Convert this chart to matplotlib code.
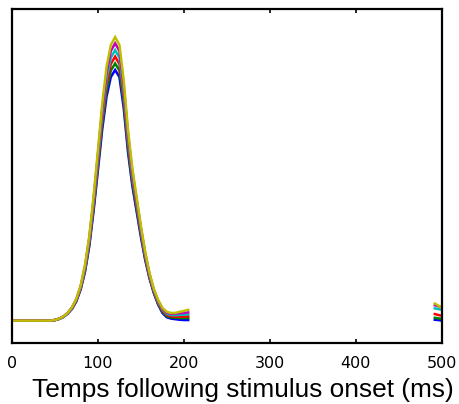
import matplotlib
matplotlib.use("Agg")
import matplotlib.pyplot as plt

plt.rcParams['font.family'] = ['Liberation Sans', 'DejaVu Sans']

# Time samples (ms) for the main segment
t_main = [0, 10, 20, 30, 40, 45, 50, 55, 60, 65, 70, 75, 80, 85, 90, 95, 100,
          105, 110, 115, 120, 125, 130, 135, 140, 145, 150, 155, 160, 165,
          170, 175, 180, 185, 190, 195, 200, 205]
# Time samples (ms) for the short segment at the end
t_tail = [492, 496, 500]

# Series values (arbitrary units, baseline = 0)
blue = [0, 0, 0, 0, 0, 0, .002, .006, .013, .025, .042, .069, .111, .173, .264,
        .389, .531, .675, .790, .859, .884, .859, .750, .594, .476, .385, .295,
        .214, .149, .097, .057, .027, .012, .007, .005, .003, .002, .002]
green = [0, 0, 0, 0, 0, 0, .002, .006, .013, .026, .043, .071, .114, .178, .271,
         .399, .545, .693, .811, .882, .907, .882, .769, .609, .488, .395, .303,
         .219, .152, .100, .060, .031, .016, .011, .010, .009, .009, .009]
red = [0, 0, 0, 0, 0, 0, .002, .007, .014, .027, .045, .073, .117, .183, .279,
       .410, .560, .711, .832, .905, .931, .905, .789, .626, .501, .406, .311,
       .225, .156, .103, .064, .035, .020, .015, .014, .014, .014, .015]
cyan = [0, 0, 0, 0, 0, 0, .002, .007, .014, .027, .046, .075, .120, .187, .286,
        .420, .573, .729, .853, .927, .954, .927, .809, .641, .513, .416, .319,
        .231, .160, .106, .067, .039, .024, .020, .019, .020, .021, .022]
magenta = [0, 0, 0, 0, 0, 0, .002, .007, .015, .028, .047, .076, .123, .192, .293,
           .430, .588, .747, .874, .951, .978, .951, .829, .657, .526, .426, .327,
           .237, .164, .109, .070, .042, .028, .024, .024, .026, .027, .029]
yellow = [0, 0, 0, 0, 0, 0, .002, .007, .015, .028, .048, .078, .125, .197, .300,
          .440, .601, .764, .894, .972, 1.000, .972, .848, .672, .538, .436, .334,
          .242, .168, .112, .073, .045, .031, .027, .027, .031, .034, .038]

blue_tail = [.003, .002, .000]
green_tail = [.010, .008, .006]
red_tail = [.023, .020, .017]
cyan_tail = [.043, .041, .038]
magenta_tail = [.054, .051, .047]
yellow_tail = [.060, .053, .045]

series = [
    (blue, blue_tail, (0, 0, 1)),
    (green, green_tail, (0, 0.5, 0)),
    (red, red_tail, (1, 0, 0)),
    (cyan, cyan_tail, (0, 0.75, 0.75)),
    (magenta, magenta_tail, (0.75, 0, 0.75)),
    (yellow, yellow_tail, (0.75, 0.75, 0)),
]

xticks = [0, 100, 200, 300, 400, 500]
xlabel = "Temps following stimulus onset (ms)"

fig = plt.figure(figsize=(4.59, 4.04), dpi=100)
ax = fig.add_axes([12.0 / 459, 1 - 343.0 / 404, (441.7 - 12.0) / 459, (343.0 - 9.0) / 404])

for main, tail, col in series:
    ax.plot(t_main, main, color=col, lw=1.8, solid_joinstyle='miter')
    ax.plot(t_tail, tail, color=col, lw=1.8)

ax.set_xlim(0, 500)
ax.set_ylim(-0.079, 1.099)
ax.set_xticks(xticks)
ax.set_xticklabels([str(v) for v in xticks], fontsize=11.5,
                   family=['DejaVu Sans'])
ax.set_yticks([])
ax.tick_params(axis='x', direction='in', length=3, width=1.2, top=True,
               pad=9, colors='black')
for s in ax.spines.values():
    s.set_linewidth(1.6)
    s.set_color('black')
ax.set_xlabel(xlabel, fontsize=18.9)
ax.xaxis.set_label_coords(0.537, -0.141, transform=ax.transAxes)
ax.xaxis.label.set_va('center')

fig.savefig("out.png", dpi=100)
